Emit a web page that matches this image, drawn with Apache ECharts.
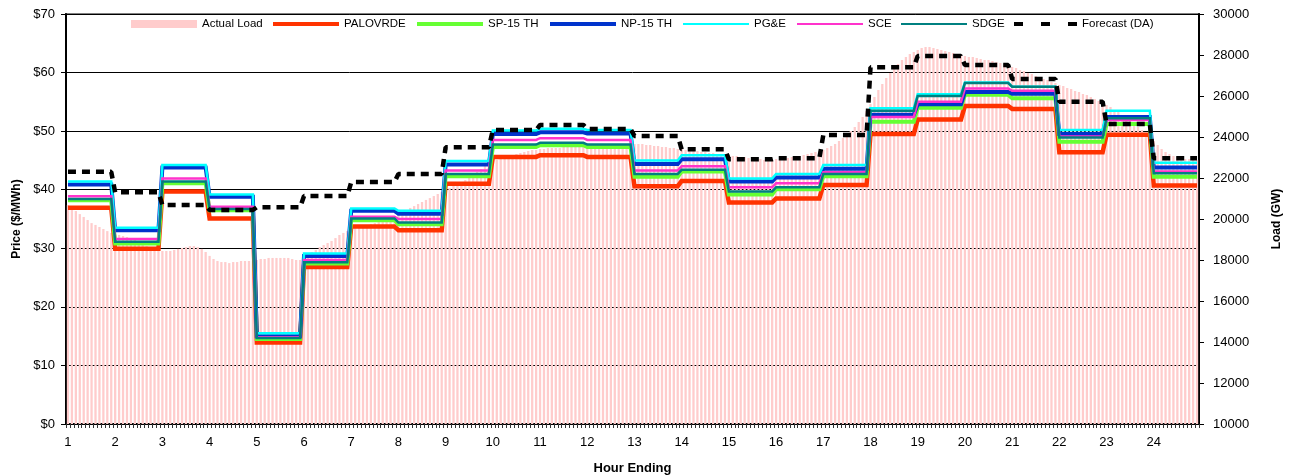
<!DOCTYPE html>
<html>
<head>
<meta charset="utf-8">
<script src="https://cdn.jsdelivr.net/npm/echarts@6/dist/echarts.min.js"></script>
<style>
  html, body { margin: 0; padding: 0; background: #ffffff; }
  #chart { width: 1299px; height: 476px; }
</style>
</head>
<body>
<div id="chart"></div>
<script>
// Hour-ending labels; each hour is split into twelve 5-minute intervals
const hourLabels = ['1','2','3','4','5','6','7','8','9','10','11','12',
                    '13','14','15','16','17','18','19','20','21','22','23','24'];
const intervalsPerHour = 12;

// Actual load (MW), one value per 5-minute interval, one row per hour
const actualLoad = [
  20680, 20540, 20390, 20240, 20100, 19950, 19800, 19710, 19610, 19510, 19410, 19320,
  19270, 19220, 19170, 19120, 19070, 18980, 18880, 18780, 18680, 18590, 18540, 18490,
  18440, 18440, 18440, 18490, 18540, 18590, 18630, 18680, 18680, 18630, 18540, 18390,
  18200, 18050, 17950, 17900, 17900, 17850, 17900, 17900, 17950, 17950, 17950, 17950,
  18000, 18050, 18050, 18100, 18100, 18100, 18100, 18100, 18100, 18050, 18000, 18000,
  18200, 18290, 18390, 18490, 18630, 18730, 18830, 18930, 19070, 19220, 19320, 19410,
  19510, 19560, 19610, 19660, 19710, 19760, 19800, 19850, 19900, 19950, 20000, 20100,
  20240, 20340, 20440, 20540, 20630, 20730, 20830, 20930, 21020, 21120, 21220, 21320,
  21410, 21510, 21610, 21710, 21800, 21900, 22050, 22150, 22290, 22440, 22590, 22680,
  22780, 22880, 22930, 23020, 23070, 23120, 23170, 23220, 23270, 23320, 23370, 23370,
  23410, 23410, 23460, 23460, 23460, 23460, 23510, 23510, 23510, 23510, 23510, 23510,
  23510, 23510, 23560, 23560, 23560, 23610, 23610, 23610, 23610, 23660, 23660, 23660,
  23660, 23660, 23660, 23610, 23610, 23560, 23560, 23510, 23510, 23460, 23460, 23410,
  23410, 23370, 23370, 23320, 23320, 23270, 23270, 23220, 23220, 23170, 23170, 23120,
  23120, 23070, 23070, 23020, 23020, 22980, 22980, 22930, 22930, 22880, 22880, 22880,
  22930, 22930, 22980, 22980, 23020, 23020, 23070, 23120, 23170, 23220, 23270, 23320,
  23370, 23460, 23560, 23660, 23810, 23950, 24100, 24290, 24490, 24730, 24980, 25270,
  25610, 25950, 26290, 26590, 26880, 27120, 27370, 27560, 27760, 27900, 28050, 28150,
  28240, 28340, 28390, 28390, 28340, 28290, 28240, 28200, 28150, 28100, 28050, 28000,
  27950, 27900, 27900, 27850, 27800, 27760, 27760, 27710, 27660, 27610, 27560, 27510,
  27410, 27370, 27270, 27220, 27120, 27070, 26980, 26930, 26830, 26780, 26680, 26630,
  26540, 26490, 26390, 26340, 26240, 26200, 26100, 26050, 25950, 25850, 25760, 25660,
  25560, 25460, 25320, 25220, 25070, 24930, 24780, 24630, 24490, 24340, 24200, 24000,
  23810, 23610, 23410, 23270, 23170, 23070, 23020, 22980, 22930, 22930, 22880, 22880
];

// Day-ahead load forecast (MW), hourly
const forecastDA = [22300, 21300, 20680, 20440, 20570, 21120, 21800, 22200, 23500, 24340, 24590, 24390,
                    24050, 23400, 22910, 22960, 24100, 27400, 27950, 27510, 26830, 25720, 24630, 22960];

// Hourly prices ($/MWh)
const palovrde = [36.9, 29.9, 39.7, 35.1, 13.9, 26.8, 33.7, 33.1, 41.0, 45.6, 45.9, 45.6,
                  40.6, 41.5, 37.8, 38.5, 40.8, 49.5, 52.0, 54.3, 53.8, 46.4, 49.4, 40.7];
const sp15     = [38.2, 30.8, 41.1, 36.5, 14.5, 27.4, 34.8, 34.1, 42.3, 47.3, 47.6, 47.3,
                  42.2, 43.1, 39.2, 40.1, 42.3, 51.6, 54.0, 56.2, 55.6, 48.2, 51.2, 42.2];
const np15     = [40.9, 33.1, 43.8, 38.8, 15.0, 28.7, 36.4, 35.9, 44.3, 49.5, 49.8, 49.6,
                  44.4, 45.2, 41.4, 42.1, 43.6, 52.8, 54.6, 56.7, 56.4, 49.5, 52.4, 43.8];
const pge      = [41.4, 33.5, 44.2, 39.2, 15.5, 29.1, 36.8, 36.4, 44.9, 50.1, 50.4, 50.2,
                  45.0, 45.9, 41.9, 42.7, 44.2, 53.9, 56.3, 58.3, 57.6, 50.2, 53.5, 44.6];
const sce      = [38.9, 31.6, 41.9, 37.1, 14.8, 28.0, 35.4, 35.0, 43.3, 48.5, 48.8, 48.5,
                  43.3, 44.0, 40.4, 41.1, 43.0, 52.4, 55.0, 57.3, 56.9, 49.1, 51.9, 43.1];
const sdge     = [38.4, 31.1, 41.4, 36.7, 14.7, 27.6, 35.1, 34.4, 42.7, 47.7, 48.0, 47.7,
                  42.7, 43.4, 39.7, 40.4, 42.7, 53.5, 56.0, 58.2, 57.6, 48.9, 52.2, 42.8];

// Expand an hourly series into one value per 5-minute interval (constant within the hour)
const perInterval = hourly => hourly.flatMap(v => new Array(intervalsPerHour).fill(v));

// Category axis: one slot per interval, hour label on the first interval of each hour
const categories = hourLabels.flatMap(h =>
  Array.from({ length: intervalsPerHour }, (_, k) => k === 0 ? h : h + ':' + (k * 5)));

const FONT = 'Liberation Sans, Arial, sans-serif';

function priceLine(name, data, color, width) {
  return {
    name, type: 'line', yAxisIndex: 0, data: perInterval(data),
    symbol: 'none', animation: false,
    lineStyle: { color, width, cap: 'butt', join: 'miter' },
    itemStyle: { color }
  };
}

// One legend block per entry so each key keeps its own swatch thickness and position
function legendEntry(name, left, icon, itemWidth, itemHeight) {
  return {
    data: [{ name, icon }],
    left, top: 18, padding: 0,
    itemWidth, itemHeight,
    symbolKeepAspect: false,
    itemStyle: { borderWidth: 0 },
    textStyle: { fontFamily: FONT, fontSize: 11.5, color: '#000' },
    selectedMode: false
  };
}
const dashIcon = 'path://M0,0h9v4h-9z M27,0h9v4h-9z M54,0h9v4h-9z';

const chart = echarts.init(document.getElementById('chart'), null, { renderer: 'canvas' });
chart.setOption({
  animation: false,
  backgroundColor: '#ffffff',
  textStyle: { fontFamily: FONT },
  grid: {
    left: 66, right: 100, top: 14, bottom: 52,
    outerBoundsMode: 'none', containLabel: false,
    show: true, borderColor: '#808080', borderWidth: 2, backgroundColor: 'transparent'
  },
  legend: [
    legendEntry('Actual Load', 131, 'rect', 66, 8),
    legendEntry('PALOVRDE', 273, 'rect', 66, 4),
    legendEntry('SP-15 TH', 417, 'rect', 66, 4),
    legendEntry('NP-15 TH', 550, 'rect', 66, 4),
    legendEntry('PG&E', 683, 'rect', 66, 2),
    legendEntry('SCE', 797, 'rect', 66, 2),
    legendEntry('SDGE', 901, 'rect', 66, 2),
    legendEntry('Forecast (DA)', 1014, dashIcon, 63, 4)
  ],
  xAxis: {
    type: 'category',
    data: categories,
    boundaryGap: true,
    name: 'Hour Ending',
    nameLocation: 'middle',
    nameGap: 38,
    nameTextStyle: { fontFamily: FONT, fontSize: 13, fontWeight: 'bold', color: '#000' },
    axisLine: { lineStyle: { color: '#000', width: 2 } },
    axisTick: { show: true, interval: 0, length: 4, lineStyle: { color: '#333', width: 1 } },
    axisLabel: {
      interval: i => i % intervalsPerHour === 0,
      formatter: v => String(v).split(':')[0],
      margin: 12, fontFamily: FONT, fontSize: 13, color: '#000'
    },
    splitLine: { show: false }
  },
  yAxis: [
    {
      type: 'value', min: 0, max: 70, interval: 10,
      name: 'Price ($/MWh)', nameLocation: 'middle', nameGap: 41, nameRotate: 90,
      nameTextStyle: { fontFamily: FONT, fontSize: 12, fontWeight: 'bold', color: '#000' },
      axisLine: { show: true, lineStyle: { color: '#000', width: 2 } },
      axisTick: { show: true, length: 5, lineStyle: { color: '#000' } },
      axisLabel: { formatter: v => '$' + v, margin: 11, fontFamily: FONT, fontSize: 13, color: '#000' },
      splitLine: { show: true, lineStyle: { color: '#000', width: 1 } }
    },
    {
      type: 'value', min: 10000, max: 30000, interval: 2000,
      position: 'right',
      name: 'Load (GW)', nameLocation: 'middle', nameGap: 72, nameRotate: 90,
      nameTextStyle: { fontFamily: FONT, fontSize: 12, fontWeight: 'bold', color: '#000' },
      axisLine: { show: true, lineStyle: { color: '#000', width: 2 } },
      axisTick: { show: true, length: 5, lineStyle: { color: '#000' } },
      axisLabel: { formatter: v => String(v), margin: 14, fontFamily: FONT, fontSize: 13, color: '#000' },
      splitLine: { show: false }
    }
  ],
  series: [
    {
      name: 'Actual Load', type: 'bar', yAxisIndex: 1, data: actualLoad,
      barWidth: '58%', itemStyle: { color: '#ffcccc' }, animation: false
    },
    priceLine('PALOVRDE', palovrde, '#ff3300', 4.5),
    priceLine('SP-15 TH', sp15, '#66ff33', 4),
    priceLine('NP-15 TH', np15, '#0033cc', 4),
    priceLine('PG&E', pge, '#00ffff', 2.5),
    priceLine('SCE', sce, '#ff33cc', 2.5),
    priceLine('SDGE', sdge, '#008080', 2.5),
    {
      name: 'Forecast (DA)', type: 'line', yAxisIndex: 1, data: perInterval(forecastDA),
      symbol: 'none', animation: false,
      lineStyle: { color: '#000', width: 4.5, type: [8, 6], cap: 'butt' },
      itemStyle: { color: '#000' }
    }
  ]
});
</script>
</body>
</html>
